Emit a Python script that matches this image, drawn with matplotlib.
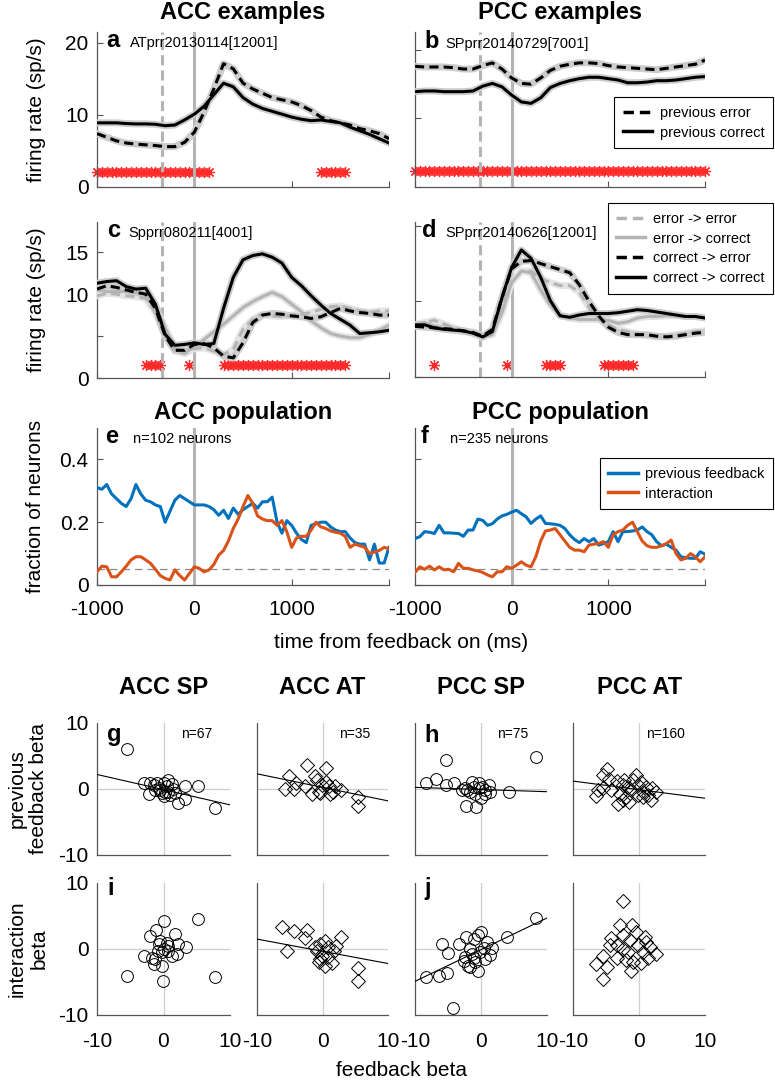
import numpy as np
import matplotlib.pyplot as plt
from matplotlib.lines import Line2D

plt.rcParams['font.family'] = ['Liberation Sans', 'DejaVu Sans']
plt.rcParams['axes.unicode_minus'] = False

W, H = 775, 1084

# time bins (ms)
t_rate = np.arange(-1000, 2001, 100)
t_frac = np.arange(-1000, 2001, 50)

# a: ACC example neuron, firing rate (sp/s)
a_prev_error = [7.4, 6.9, 6.4, 6.1, 5.95, 5.85, 5.75, 5.6, 5.6, 6.2, 7.6, 10.4, 13.6, 17.1, 16.4,
                14.4, 13.6, 13.0, 12.4, 12.1, 11.8, 11.3, 10.6, 9.7, 9.2, 8.9, 8.6, 8.1, 7.8, 7.4, 6.7]
a_prev_correct = [8.9, 8.9, 8.9, 8.8, 8.75, 8.75, 8.7, 8.5, 8.6, 9.3, 10.1, 11.2, 12.8, 14.4, 13.9,
                  12.4, 11.5, 10.9, 10.5, 10.1, 9.7, 9.4, 9.2, 9.3, 9.1, 8.9, 8.3, 7.8, 7.3, 6.7, 6.1]
a_sig = [(-1000, 150), (1300, 1550)]

# b: PCC example neuron
b_prev_error = [17.6, 17.5, 17.5, 17.5, 17.4, 17.2, 17.2, 17.7, 18.1, 17.2, 15.9, 15.1, 15.0, 15.9, 17.0,
                17.6, 17.9, 18.1, 18.1, 18.0, 17.7, 17.5, 17.4, 17.3, 17.2, 17.1, 17.3, 17.5, 17.7, 17.9, 18.5]
b_prev_correct = [13.9, 14.0, 14.0, 13.9, 13.9, 13.9, 14.0, 14.7, 15.1, 14.6, 13.4, 12.4, 12.2, 13.0, 14.5,
                  15.1, 15.5, 15.8, 16.0, 16.0, 15.8, 15.6, 15.2, 15.2, 15.3, 15.5, 15.5, 15.6, 15.8, 16.0, 16.1]
b_sig = [(-1000, 2000)]

# c: ACC example, previous -> current outcome
c_err_err = [9.8, 10.1, 10.0, 9.8, 9.7, 9.5, 7.8, 5.0, 3.2, 2.9, 3.5, 3.6, 3.2, 2.8, 3.4, 5.8,
             7.0, 7.6, 7.4, 7.3, 7.5, 7.6, 7.8, 8.2, 8.5, 8.6, 8.3, 8.0, 7.8, 8.0, 8.0]
c_err_cor = [10.5, 10.3, 10.3, 10.3, 10.2, 10.1, 8.5, 6.0, 3.6, 3.1, 3.6, 4.6, 5.5, 6.4, 7.4, 8.4,
             9.1, 9.7, 10.2, 9.7, 8.8, 7.9, 6.8, 6.0, 5.3, 5.0, 4.8, 4.8, 5.2, 5.7, 6.3]
c_cor_err = [10.6, 11.0, 10.8, 10.5, 10.2, 10.0, 8.3, 5.0, 3.3, 3.3, 4.0, 4.1, 3.6, 2.6, 2.4, 4.2,
             6.6, 7.5, 7.7, 7.6, 7.4, 7.3, 7.1, 7.3, 7.8, 8.3, 8.0, 7.8, 7.7, 7.5, 7.5]
c_cor_cor = [11.3, 11.5, 11.6, 10.9, 10.6, 10.7, 8.8, 5.2, 3.9, 4.0, 4.2, 4.0, 4.1, 8.3, 12.0, 14.1,
             14.6, 14.8, 14.4, 13.7, 12.0, 11.0, 9.8, 8.7, 7.7, 7.0, 6.3, 5.3, 5.4, 5.5, 5.7]
c_sig = [(-500, -350), (-50, -50), (300, 1550)]

# d: PCC example
d_err_err = [6.9, 7.2, 7.5, 7.0, 6.5, 6.1, 5.8, 5.2, 5.9, 9.5, 12.5, 14.0, 14.0, 13.0, 12.5, 12.1,
             12.1, 11.2, 9.2, 7.6, 6.9, 6.3, 6.0, 5.7, 5.5, 5.3, 5.4, 5.6, 5.8, 6.0, 6.1]
d_err_cor = [6.8, 7.2, 6.7, 6.4, 6.2, 6.0, 5.8, 5.3, 5.6, 8.5, 12.5, 14.0, 13.8, 11.5, 9.5, 8.2,
             7.8, 7.6, 7.6, 7.6, 7.5, 7.1, 7.3, 7.8, 8.0, 8.0, 8.1, 8.1, 8.0, 8.0, 7.9]
d_cor_err = [6.7, 6.6, 6.5, 6.4, 6.3, 6.1, 5.9, 5.4, 6.3, 10.5, 14.3, 15.3, 15.4, 15.0, 14.6, 14.2,
             13.8, 12.2, 10.0, 8.1, 6.6, 5.9, 5.6, 5.6, 5.6, 5.4, 5.3, 5.4, 5.6, 5.8, 5.9]
d_cor_cor = [6.9, 6.9, 6.5, 6.3, 6.2, 6.1, 5.8, 5.3, 6.0, 10.5, 14.5, 16.8, 15.7, 13.2, 10.1, 8.1,
             7.9, 8.2, 8.4, 8.4, 8.4, 8.5, 8.7, 8.9, 8.8, 8.6, 8.4, 8.2, 8.0, 8.0, 7.8]
d_sig = [(-800, -800), (-50, -50), (350, 500), (950, 1250)]

# e/f: fraction of neurons
e_prev_fb = [0.31, 0.305, 0.32, 0.29, 0.275, 0.26, 0.25, 0.275, 0.32, 0.29,
             0.27, 0.265, 0.255, 0.25, 0.20, 0.235, 0.27, 0.285, 0.275, 0.265,
             0.255, 0.255, 0.255, 0.25, 0.24, 0.222, 0.238, 0.212, 0.245, 0.225,
             0.24, 0.25, 0.26, 0.245, 0.265, 0.265, 0.28, 0.20, 0.165, 0.205,
             0.19, 0.165, 0.145, 0.135, 0.19, 0.195, 0.2, 0.2, 0.185, 0.175,
             0.17, 0.17, 0.15, 0.135, 0.13, 0.13, 0.08, 0.13, 0.07, 0.07, 0.12]
e_interaction = [0.042, 0.06, 0.058, 0.026, 0.026, 0.042, 0.06, 0.08, 0.09, 0.09,
                 0.08, 0.069, 0.05, 0.03, 0.021, 0.016, 0.048, 0.03, 0.016, 0.037,
                 0.058, 0.053, 0.042, 0.048, 0.065, 0.095, 0.11, 0.14, 0.18, 0.21,
                 0.25, 0.285, 0.26, 0.22, 0.21, 0.205, 0.205, 0.19, 0.205, 0.17,
                 0.12, 0.15, 0.155, 0.155, 0.175, 0.2, 0.185, 0.18, 0.172, 0.168,
                 0.165, 0.155, 0.12, 0.13, 0.125, 0.12, 0.10, 0.105, 0.11, 0.12, 0.115]
f_prev_fb = [0.148, 0.154, 0.17, 0.168, 0.164, 0.19, 0.166, 0.166, 0.165, 0.164,
             0.155, 0.175, 0.175, 0.21, 0.206, 0.19, 0.195, 0.21, 0.22, 0.225,
             0.232, 0.238, 0.227, 0.217, 0.196, 0.21, 0.22, 0.196, 0.195, 0.193,
             0.19, 0.18, 0.16, 0.145, 0.135, 0.148, 0.138, 0.148, 0.127, 0.132,
             0.138, 0.17, 0.138, 0.17, 0.17, 0.172, 0.175, 0.185, 0.17, 0.16,
             0.138, 0.125, 0.13, 0.12, 0.111, 0.09, 0.087, 0.085, 0.085, 0.106, 0.098]
f_interaction = [0.04, 0.058, 0.05, 0.06, 0.048, 0.058, 0.048, 0.05, 0.042, 0.069,
                 0.053, 0.053, 0.048, 0.045, 0.04, 0.032, 0.026, 0.042, 0.042, 0.058,
                 0.053, 0.063, 0.074, 0.063, 0.058, 0.09, 0.14, 0.172, 0.175, 0.18,
                 0.16, 0.14, 0.12, 0.111, 0.111, 0.106, 0.127, 0.13, 0.132, 0.138,
                 0.12, 0.16, 0.17, 0.175, 0.19, 0.2, 0.17, 0.14, 0.125, 0.12,
                 0.12, 0.125, 0.132, 0.143, 0.1, 0.08, 0.085, 0.1, 0.09, 0.074, 0.09]
chance_level = 0.05

# g-j: regression betas (x = feedback beta)
acc_sp_fb = [-5.5, -3.0, -2.0, -2.25, -1.0, -0.5, 0, 0.25, -0.25, 0.5, 1.25, 0.75, 1.5, 3.2, 3.2,
             2.25, 5.2, 7.75, -1.25, 0.75, -0.75, 0, 1.75, -1.5, 1.0]
acc_sp_prev = [6.0, 0.95, 0.95, -0.7, 0.85, -0.1, 0.85, -0.4, -0.65, 0.4, 0.7, -0.4, -0.05, 0.4, -1.5,
               -2.1, 0.5, -2.85, -0.1, 1.35, 0.1, -1.05, -0.6, 0.6, -0.9]
acc_at_fb = [-2.4, 0.5, -5.1, -5.8, -4.4, -2.6, -0.9, -0.6, -1.6, -0.1, 0.5, 1.0, 1.2, 1.9, 2.9,
             5.4, 5.4, -0.4, 1.6, -1.1, -4.1]
acc_at_prev = [3.7, 3.2, 1.9, 0, 0, 0.4, 1.4, -0.4, -0.7, 0.6, 1.1, 0.4, -0.7, 0.4, -0.1,
               -1.2, -2.5, -0.6, -0.4, 1.9, 0.9]
pcc_sp_fb = [-5.25, 8.4, -8.3, -6.8, -5.3, -4.1, -2.5, -1.4, -0.35, -1.6, -0.9, 0.65, 1.4, 0.65,
             -2.2, -0.7, 4.2, 0, -2.1, -2.9, -0.35, 1.2, -1.1, 0.15]
pcc_sp_prev = [4.4, 4.9, 0.85, 1.45, 0.6, 0.85, 0.1, 1.1, 0.85, -0.4, -0.7, -0.2, -0.4, -0.7,
               -2.6, -2.8, -0.4, -1.4, -0.15, -0.15, 0.1, 0.6, 0.35, 0.35]
pcc_at_fb = [-4.85, -4.5, -5.5, -6.25, -6.5, -5.5, -4.2, -3.4, -2.9, -2.4, -2.2, -1.7, -0.9, -1.2,
             -0.4, -0.2, 0.3, 0.55, 1.05, 1.3, 1.8, 2.5, 2.0, -1.5, -3.2, 0.55, -2.0, -0.2, -2.4]
pcc_at_prev = [3.1, 1.45, 2.1, -0.1, -1.0, 0.1, -0.1, 1.2, -0.7, -1.7, 1.35, 0.35, 1.35, -0.15,
               2.1, 0.6, 1.1, -0.4, 0.35, -0.9, -1.7, -0.4, 0.1, -2.0, -2.2, -1.15, -1.15, -0.9, 0.6]

acc_sp_fb2 = [-5.5, 0, 5.25, 7.75, -0.1, -1.1, -2.1, -3.0, -1.4, -0.3, 1.75, 3.4, -0.75, 0.5, -0.9,
              0.75, 2.25, 1.25, -1.75, 0, -0.25, 2.0, 0.75, -0.5, -1.25]
acc_sp_int = [-4.1, 4.2, 4.5, -4.2, -4.9, 2.9, 1.9, -1.0, -2.3, -2.5, 2.3, 0.25, 0.7, 0.95, -0.25,
              -0.25, 0.7, -1.0, -1.3, 0, -0.5, -0.75, 0.5, 1.2, -1.5]
acc_at_fb2 = [-6.15, -4.4, -2.3, -2.6, -5.4, -0.35, 0.4, 0.9, 2.1, 2.9, -0.85, -0.4, -0.6, 0.4, 1.4,
              -0.05, 0.9, 5.4, 5.4, -1.1, 1.7]
acc_at_int = [3.3, 2.8, 2.85, 1.7, -0.35, 0.75, 1.25, 0.35, 0.5, 1.85, -0.25, -1.5, -2.0, -2.5, -2.15,
              -1.0, -1.25, -2.9, -4.8, 0.25, -0.25]
pcc_sp_fb2 = [8.4, 4.0, -8.3, -6.3, -5.15, -4.25, -5.9, -5.05, -3.4, -2.2, -1.0, 0, -0.5, -1.6, -2.4,
              -2.6, -1.6, -0.5, -0.85, 0.4, 1.3, 0.9, 1.7, -0.1, -1.1, 0.65, -1.9, -1.4]
pcc_sp_int = [4.7, 1.75, -4.3, -4.1, -3.7, -8.9, 0.7, -0.6, 0.7, 1.8, 1.45, 2.6, 2.1, 0.05, -1.2,
              -1.8, -2.8, -3.3, -2.0, 0.2, -0.9, 1.1, 0.2, -0.5, -1.3, -1.55, -2.5, -0.75]
pcc_at_fb2 = [-2.5, -2.9, -1.0, -4.2, -4.4, -6.45, -5.45, -4.9, -5.45, -3.4, -2.4, -1.4, -0.15, 0.85,
              1.6, 2.6, 1.35, 0.35, -1.15, -0.9, -2.4, -1.65, 0.6, -0.4, -3.4, -1.9, 1.1]
pcc_at_int = [7.3, 3.7, 3.7, 1.6, 0.6, -2.2, -1.0, -2.8, -4.5, 0.6, 2.1, 1.4, 0.6, 1.8,
              0.35, -0.7, -1.4, -2.1, -3.4, -1.9, 0.05, -0.4, -0.4, 2.6, -1.4, -1.6, 1.1]

# fitted regression lines (intercept, slope); None = no line drawn
fit_top = [(-0.1, -0.23), (0.25, -0.205), (-0.08, -0.033), (-0.1, -0.13)]
fit_bot = [None, (-0.35, -0.185), (-0.1, 0.48), None]

GRAY = '#b4b4b4'
AXC = '#555555'
BLUE = '#0072BD'
ORANGE = '#D95319'
STAR = '#ff2a2a'
DASH = (0, (3, 1.7))

fig = plt.figure(figsize=(W / 100, H / 100), dpi=100)


def px_box(l, t, r, b):
    return [l / W, 1 - b / H, (r - l) / W, (b - t) / H]


def ftext(x, y, s, **kw):
    fig.text(x / W, 1 - y / H, s, **kw)


def style_axis(ax):
    for s in ['top', 'right']:
        ax.spines[s].set_visible(False)
    for s in ['left', 'bottom']:
        ax.spines[s].set_color(AXC)
        ax.spines[s].set_linewidth(0.9)
    ax.tick_params(direction='in', length=4, width=0.8, color=AXC, labelsize=15, pad=6)
    ax.tick_params(axis='x', pad=11)


def time_axis(ax, ylim, yticks, ylabels, xlabels=False):
    ax.set_xlim(-1000, 2000)
    ax.set_ylim(*ylim)
    ax.set_xticks([-1000, 0, 1000, 2000])
    ax.set_xticklabels(['-1000', '0', '1000', ''] if xlabels else [])
    ax.set_yticks(yticks)
    ax.set_yticklabels(ylabels)
    style_axis(ax)


def event_lines(ax, cue=True):
    ax.axvline(0, color=GRAY, lw=2.2, zorder=2)
    if cue:
        ax.axvline(-330, color=GRAY, lw=2.2, ls=(0, (3.3, 1.7)), zorder=2)


def sig_marks(ax, intervals, level):
    for start, stop in intervals:
        ts = np.arange(start, stop + 1, 50)
        ax.plot(ts, [level] * len(ts), ls='none', marker=(8, 2, 0), ms=8,
                mec=STAR, mew=0.9, zorder=1, clip_on=False)


def rate_curves(ax, curves):
    # curves: list of (values, color, dashed, halo)
    for y, color, dashed, halo in curves:
        ax.plot(t_rate, y, color=halo, lw=5, zorder=3, solid_joinstyle='round')
    for y, color, dashed, halo in curves:
        ax.plot(t_rate, y, color=color, lw=2.2, ls=DASH if dashed else '-', zorder=4)


def legend(ax, handles, labels, x_right, y_top):
    lg = ax.legend(handles, labels, loc='upper right', bbox_to_anchor=(x_right / W, 1 - y_top / H),
                   bbox_transform=fig.transFigure, fancybox=False, edgecolor='k', framealpha=1,
                   fontsize=10.5, handlelength=2.0, handletextpad=0.5, borderaxespad=0,
                   borderpad=0.6, labelspacing=0.4)
    lg.get_frame().set_linewidth(0.8)
    lg.set_zorder(10)


# ---- a ----
ax = fig.add_axes(px_box(97, 32, 389, 187))
time_axis(ax, (0, 21.5), [0, 10, 20], ['0', '10', '20'])
sig_marks(ax, a_sig, 2.1)
event_lines(ax)
rate_curves(ax, [(a_prev_error, 'k', True, '#cccccc'), (a_prev_correct, 'k', False, '#cccccc')])

# ---- b ----
ax = fig.add_axes(px_box(415, 32, 705, 187))
time_axis(ax, (0, 22.6), [0, 10, 20], [])
sig_marks(ax, b_sig, 2.26)
event_lines(ax)
rate_curves(ax, [(b_prev_error, 'k', True, '#cccccc'), (b_prev_correct, 'k', False, '#cccccc')])
legend(ax, [Line2D([], [], color='k', lw=2.5, ls=DASH), Line2D([], [], color='k', lw=2.5)],
       ['previous error', 'previous correct'], 773, 97)

# ---- c ----
ax = fig.add_axes(px_box(97, 222, 389, 378))
time_axis(ax, (0, 18.6), [0, 5, 10, 15], ['0', '', '10', '15'])
sig_marks(ax, c_sig, 1.55)
event_lines(ax)
rate_curves(ax, [(c_err_err, GRAY, True, '#e4e4e4'), (c_err_cor, GRAY, False, '#e4e4e4'),
                 (c_cor_err, 'k', True, '#cccccc'), (c_cor_cor, 'k', False, '#cccccc')])

# ---- d ----
ax = fig.add_axes(px_box(415, 222, 705, 377))
time_axis(ax, (0, 20.5), [0, 10, 20], [])
sig_marks(ax, d_sig, 1.6)
event_lines(ax)
rate_curves(ax, [(d_err_err, GRAY, True, '#e4e4e4'), (d_err_cor, GRAY, False, '#e4e4e4'),
                 (d_cor_err, 'k', True, '#cccccc'), (d_cor_cor, 'k', False, '#cccccc')])
legend(ax, [Line2D([], [], color=GRAY, lw=2.5, ls=DASH), Line2D([], [], color=GRAY, lw=2.5),
            Line2D([], [], color='k', lw=2.5, ls=DASH), Line2D([], [], color='k', lw=2.5)],
       ['error -> error', 'error -> correct', 'correct -> error', 'correct -> correct'], 773, 203)

# ---- e ----
ax = fig.add_axes(px_box(97, 428, 389, 585))
time_axis(ax, (0, 0.5), [0, 0.2, 0.4], ['0', '0.2', '0.4'], xlabels=True)
event_lines(ax, cue=False)
ax.axhline(chance_level, color='#8a8a8a', lw=0.9, ls=(0, (6, 4)), zorder=1)
ax.plot(t_frac, e_prev_fb, color=BLUE, lw=2.2, zorder=3)
ax.plot(t_frac, e_interaction, color=ORANGE, lw=2.2, zorder=4)

# ---- f ----
ax = fig.add_axes(px_box(415, 428, 705, 585))
time_axis(ax, (0, 0.5), [0, 0.2, 0.4], [], xlabels=True)
event_lines(ax, cue=False)
ax.axhline(chance_level, color='#8a8a8a', lw=0.9, ls=(0, (6, 4)), zorder=1)
ax.plot(t_frac, f_prev_fb, color=BLUE, lw=2.2, zorder=3)
ax.plot(t_frac, f_interaction, color=ORANGE, lw=2.2, zorder=4)
legend(ax, [Line2D([], [], color=BLUE, lw=2.5), Line2D([], [], color=ORANGE, lw=2.5)],
       ['previous feedback', 'interaction'], 773, 458)

# ---- scatter panels g-j ----
cols = [(97, 230), (257, 388), (415, 547), (573, 705)]
rows = [(723, 855), (883, 1015)]
top_data = [(acc_sp_fb, acc_sp_prev, 'o'), (acc_at_fb, acc_at_prev, 'D'),
            (pcc_sp_fb, pcc_sp_prev, 'o'), (pcc_at_fb, pcc_at_prev, 'D')]
bot_data = [(acc_sp_fb2, acc_sp_int, 'o'), (acc_at_fb2, acc_at_int, 'D'),
            (pcc_sp_fb2, pcc_sp_int, 'o'), (pcc_at_fb2, pcc_at_int, 'D')]
for r, (row_data, fits) in enumerate([(top_data, fit_top), (bot_data, fit_bot)]):
    for c, ((x, y, mk), fit) in enumerate(zip(row_data, fits)):
        l, rr = cols[c]
        t, b = rows[r]
        ax = fig.add_axes(px_box(l, t, rr, b))
        ax.set_xlim(-10, 10)
        ax.set_ylim(-10, 10)
        ax.set_xticks([-10, 0, 10])
        ax.set_yticks([-10, 0, 10])
        if r == 0:
            ax.set_xticklabels([])
        else:
            ax.set_xticklabels(['-10', '0', '10'])
        if c > 0:
            ax.set_yticklabels([])
        else:
            ax.set_yticklabels(['-10', '0', '10'])
        style_axis(ax)
        ax.tick_params(length=0)
        ax.tick_params(axis='x', pad=12)
        ax.axhline(0, color='#cfcfcf', lw=0.9, zorder=0)
        ax.axvline(0, color='#cfcfcf', lw=0.9, zorder=0)
        ax.plot(x, y, ls='none', marker=mk, ms=8.5 if mk == 'o' else 7, mfc='none',
                mec='k', mew=0.7, zorder=3)
        if fit is not None:
            xl = np.array([-10, 10])
            ax.plot(xl, fit[0] + fit[1] * xl, color='k', lw=0.8, zorder=4)

# ---- text ----
bold = dict(fontweight='bold', ha='center', va='center')
ftext(243, 12, 'ACC examples', fontsize=17, **bold)
ftext(560, 12, 'PCC examples', fontsize=17, **bold)
ftext(243, 412, 'ACC population', fontsize=17, **bold)
ftext(560, 412, 'PCC population', fontsize=17, **bold)
for name, xc in zip(['ACC SP', 'ACC AT', 'PCC SP', 'PCC AT'], [164, 322, 481, 640]):
    ftext(xc, 688, name, fontsize=17, **bold)

letter = dict(fontweight='bold', fontsize=17, ha='left', va='baseline')
small = dict(fontsize=10.5, ha='left', va='baseline')
ftext(106, 47, 'a', **letter)
ftext(130, 47, 'ATprr20130114[12001]', **small)
ftext(424, 48, 'b', **letter)
ftext(445, 48, 'SPprr20140729[7001]', **small)
ftext(107, 237, 'c', **letter)
ftext(128, 237, 'Spprr080211[4001]', **small)
ftext(422, 237, 'd', **letter)
ftext(445, 237, 'SPprr20140626[12001]', **small)
ftext(105, 443, 'e', **letter)
ftext(133, 443, 'n=102 neurons', **small)
ftext(421, 443, 'f', **letter)
ftext(450, 443, 'n=235 neurons', **small)
ftext(107, 741, 'g', **letter)
ftext(424, 742, 'h', **letter)
ftext(107, 895, 'i', **letter)
ftext(424, 895, 'j', **letter)
ncount = dict(fontsize=10, ha='center', va='baseline')
for txt, xc in zip(['n=67', 'n=35', 'n=75', 'n=160'], [197, 355, 513, 665]):
    ftext(xc, 738, txt, **ncount)

lab = dict(fontsize=15, ha='center', va='center')
ftext(36, 110, 'firing rate (sp/s)', rotation=90, **lab)
ftext(36, 300, 'firing rate (sp/s)', rotation=90, **lab)
ftext(36, 506, 'fraction of neurons', rotation=90, **lab)
ftext(401, 642, 'time from feedback on (ms)', **lab)
ftext(28, 789, 'previous\nfeedback beta', rotation=90, **lab)
ftext(28, 949, 'interaction\nbeta', rotation=90, **lab)
ftext(401, 1070, 'feedback beta', **lab)

fig.savefig('out.png', dpi=100)
